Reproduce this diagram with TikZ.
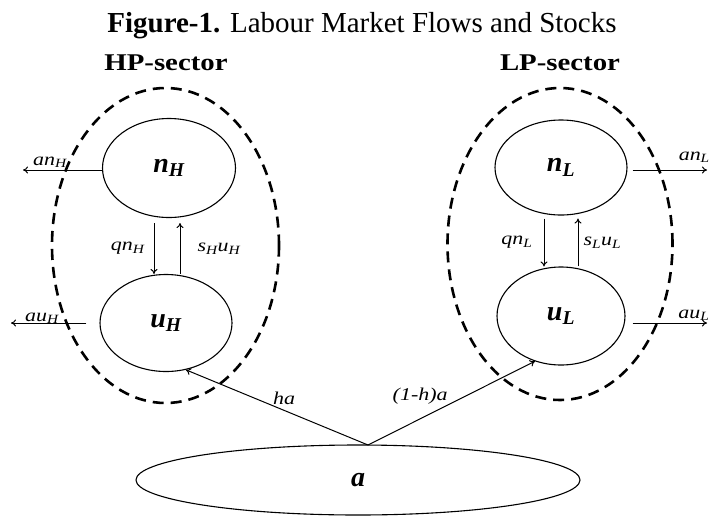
\documentclass[tikz,border=0pt]{standalone}
\usepackage{fontspec}
\setmainfont{Liberation Serif}
\newfontfamily\secfont[FakeStretch=1.2]{Liberation Serif}
\newfontfamily\labfont[FakeStretch=1.22]{Liberation Serif}
\usetikzlibrary{arrows.meta, positioning, shapes.geometric}
\tikzset{
    stock/.style={ellipse, draw=black, line width=1.1pt, inner sep=0pt},
    sector/.style={ellipse, draw=black, line width=2.6pt, dash pattern=on 11pt off 7pt, inner sep=0pt},
    flow/.style={->, >={To[length=5pt, width=7pt]}, line width=1pt},
    lab/.style={font=\fontsize{18}{20}\selectfont\labfont\itshape, inner sep=1pt},
    big/.style={font=\fontsize{28}{30}\selectfont\bfseries\itshape},
    head/.style={font=\fontsize{24}{26}\selectfont\secfont\bfseries, anchor=base}
}
\newcommand{\fl}[2]{#1\textsubscript{#2}}

\begin{document}
\begin{tikzpicture}[x=1pt, y=-1pt]
        \useasboundingbox (0,0) rectangle (713,515);

        % Titel
        \node[font=\fontsize{29}{32}\selectfont, anchor=base] (title) at (362,32) {\textbf{Figure-1.} Labour Market Flows and Stocks};
        \node[head] (hplab) at (166,70) {HP-sector};
        \node[head] (lplab) at (560,70) {LP-sector};

        % Sektoren
        \node[sector, minimum width=227pt, minimum height=315pt] (hps) at (165.5,245.5) {};
        \node[sector, minimum width=225pt, minimum height=312pt] (lps) at (560,244) {};

        % Bestaende
        \node[stock, big, minimum width=133pt, minimum height=99pt] (nH) at (169,168) {\fl{n}{H}};
        \node[stock, big, minimum width=132pt, minimum height=97pt] (uH) at (166,323) {\fl{u}{H}};
        \node[stock, big, minimum width=132pt, minimum height=95pt] (nL) at (561,167.5) {\fl{n}{L}};
        \node[stock, big, minimum width=128pt, minimum height=98pt] (uL) at (561,316) {\fl{u}{L}};
        \node[stock, big, minimum width=444pt, minimum height=70pt] (a) at (358,480) {a};

        % freie Enden
        \coordinate (anH) at (23,170);
        \coordinate (auH) at (11,323);
        \coordinate (anL) at (707,170);
        \coordinate (auL) at (707,323);
        \coordinate (atop) at (368,445);

        % Stroeme nach aussen
        \draw[flow] (nH.west |- anH) -- node[lab, pos=0.66, anchor=base, yshift=5pt] {\fl{an}{H}} (anH);
        \draw[flow, shorten <=13pt] (uH.west |- auH) -- node[lab, pos=0.65, anchor=base, yshift=2pt] {\fl{au}{H}} (auH);
        \draw[flow, shorten <=5pt] (nL.east |- anL) -- node[lab, pos=0.84, anchor=base, yshift=10pt] {\fl{an}{L}} (anL);
        \draw[flow, shorten <=7pt] (uL.east |- auL) -- node[lab, pos=0.84, anchor=base, yshift=5pt] {\fl{au}{L}} (auL);

        % Stroeme im Sektor
        \draw[flow] ([xshift=-15pt, yshift=-5pt]nH.south) -- node[lab, left=8pt] {\fl{qn}{H}} ([xshift=-12pt]uH.north);
        \draw[flow] ([xshift=14pt]uH.north) -- node[lab, right=16pt] {\fl{s}{H}\fl{u}{H}} ([xshift=11pt, yshift=-5pt]nH.south);
        \draw[flow] ([xshift=-17pt, yshift=-3pt]nL.south) -- node[lab, left=10pt] {\fl{qn}{L}} ([xshift=-17pt]uL.north);
        \draw[flow] ([xshift=17pt]uL.north) -- node[lab, right=4pt] {\fl{s}{L}\fl{u}{L}} ([xshift=17pt, yshift=-3pt]nL.south);

        % Zugang aus a
        \draw[flow] (atop) -- node[lab, pos=0.46, above=4pt] {ha} (uH.-67);
        \draw[flow] (atop) -- node[lab, pos=0.48, anchor=south east, inner sep=0pt] {(1-h)a} (uL.-120);
\end{tikzpicture}
\end{document}
